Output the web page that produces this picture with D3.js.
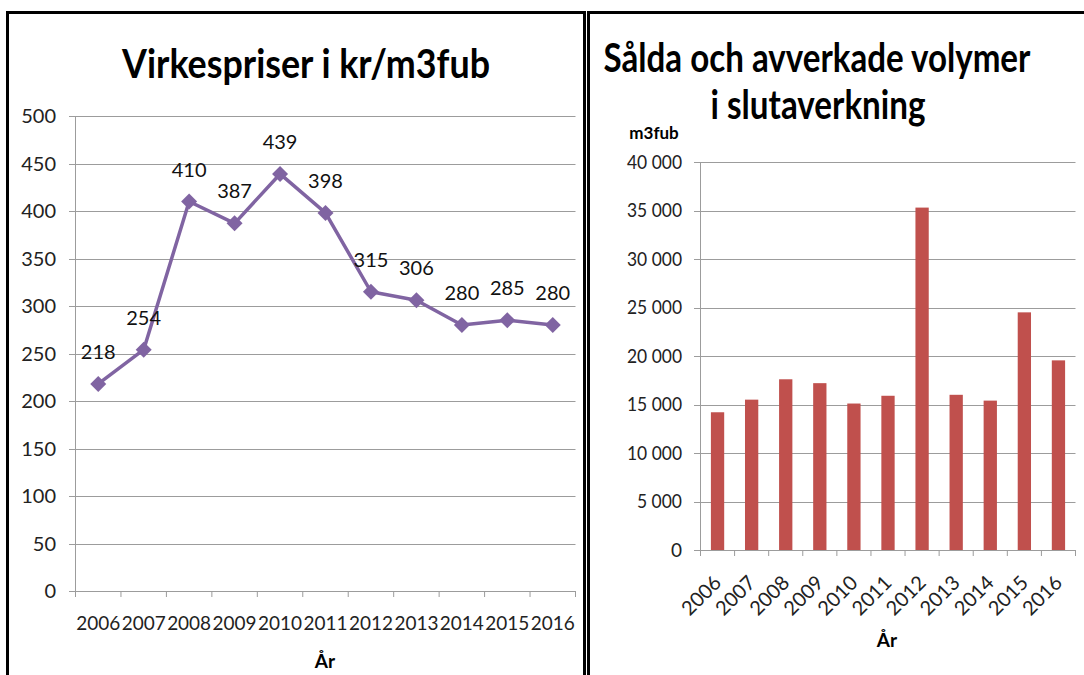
<!DOCTYPE html>
<html>
<head>
<meta charset="utf-8">
<script src="https://cdn.jsdelivr.net/npm/d3@7"></script>
<style>
  body { margin: 0; background: #fff; }
  svg { display: block; font-family: Lato, "Open Sans", sans-serif; }
</style>
</head>
<body>
<div id="chart"></div>
<script>
const years = ["2006", "2007", "2008", "2009", "2010", "2011", "2012", "2013", "2014", "2015", "2016"];
const prices = [218, 254, 410, 387, 439, 398, 315, 306, 280, 285, 280];
const volumes = [14200, 15500, 17600, 17200, 15100, 15900, 35300, 16000, 15400, 24500, 19550];
const priceTicks = [0, 50, 100, 150, 200, 250, 300, 350, 400, 450, 500];
const volumeTicks = [0, 5000, 10000, 15000, 20000, 25000, 30000, 35000, 40000];

const width = 1084,
  height = 675;

const svg = d3.select("#chart")
  .append("svg")
  .attr("width", width)
  .attr("height", height)
  .attr("viewBox", [0, 0, width, height]);

svg.append("rect").attr("width", width).attr("height", height).attr("fill", "#fff");

const grid = "#9c9c9c";
const fmt = d => d3.format(",")(d).replace(/,/g, "\u00a0");

// squeeze a title horizontally to the width it has in the original (Calibri is narrow)
function title(g, str, cx, y, w) {
  const t = g.append("text")
    .attr("text-anchor", "middle")
    .attr("font-size", 41).attr("font-weight", "bold")
    .text(str);
  const k = w / t.node().getComputedTextLength();
  t.attr("transform", `translate(${cx},${y}) scale(${k},1)`);
}

// panel frames
svg.append("rect")
  .attr("x", 7.5).attr("y", 12.5).attr("width", 577).attr("height", 700)
  .attr("fill", "none").attr("stroke", "#000").attr("stroke-width", 3);
svg.append("rect")
  .attr("x", 588.5).attr("y", 12.5).attr("width", 520).attr("height", 700)
  .attr("fill", "none").attr("stroke", "#000").attr("stroke-width", 3);

// ---------- left: line chart ----------
const x1 = d3.scaleBand().domain(years).range([75.5, 575.5]);
const y1 = d3.scaleLinear().domain([0, 500]).range([591, 116]);

const left = svg.append("g");

title(left, "Virkespriser i kr/m3fub", 306, 78, 368);

left.append("g")
  .selectAll("line")
  .data(priceTicks)
  .join("line")
  .attr("x1", 69).attr("x2", 575.5)
  .attr("y1", d => Math.round(y1(d)) + 0.5)
  .attr("y2", d => Math.round(y1(d)) + 0.5)
  .attr("stroke", grid);

left.append("line")
  .attr("x1", 75.5).attr("x2", 75.5).attr("y1", y1(500)).attr("y2", y1(0) + 6)
  .attr("stroke", grid);

left.append("g")
  .selectAll("line")
  .data(years.concat(["end"]))
  .join("line")
  .attr("x1", (d, i) => 75.5 + i * x1.step())
  .attr("x2", (d, i) => 75.5 + i * x1.step())
  .attr("y1", y1(0)).attr("y2", y1(0) + 6)
  .attr("stroke", grid);

left.append("g")
  .selectAll("text")
  .data(priceTicks)
  .join("text")
  .attr("x", 56)
  .attr("y", d => y1(d))
  .attr("dy", "0.36em")
  .attr("text-anchor", "end")
  .attr("font-size", 20)
  .attr("fill", "#222")
  .text(d => d);

left.append("g")
  .selectAll("text")
  .data(years)
  .join("text")
  .attr("x", d => x1(d) + x1.bandwidth() / 2)
  .attr("y", 630)
  .attr("text-anchor", "middle")
  .attr("font-size", 20)
  .attr("fill", "#222")
  .attr("textLength", 44).attr("lengthAdjust", "spacingAndGlyphs")
  .text(d => d);

left.append("text")
  .attr("x", 325).attr("y", 668)
  .attr("text-anchor", "middle")
  .attr("font-size", 19).attr("font-weight", "bold")
  .text("År");

const line = d3.line()
  .x((d, i) => x1(years[i]) + x1.bandwidth() / 2)
  .y(d => y1(d));

left.append("path")
  .datum(prices)
  .attr("fill", "none")
  .attr("stroke", "#8064a2")
  .attr("stroke-width", 3.5)
  .attr("stroke-linejoin", "round")
  .attr("d", line);

left.append("g")
  .selectAll("path")
  .data(prices)
  .join("path")
  .attr("transform", (d, i) => `translate(${x1(years[i]) + x1.bandwidth() / 2},${y1(d)})`)
  .attr("d", "M0,-8L8,0L0,8L-8,0Z")
  .attr("fill", "#8064a2");

left.append("g")
  .selectAll("text")
  .data(prices)
  .join("text")
  .attr("x", (d, i) => x1(years[i]) + x1.bandwidth() / 2)
  .attr("y", d => y1(d) - 25)
  .attr("text-anchor", "middle")
  .attr("font-size", 20)
  .attr("fill", "#111")
  .text(d => d);

// ---------- right: bar chart ----------
const x2 = d3.scaleBand().domain(years).range([700.5, 1075.5]);
const y2 = d3.scaleLinear().domain([0, 40000]).range([550, 162]);

const right = svg.append("g");

title(right, "Sålda och avverkade volymer", 817, 72, 427);
title(right, "i slutaverkning", 818, 119, 215);

right.append("text")
  .attr("x", 654).attr("y", 139)
  .attr("text-anchor", "middle")
  .attr("font-size", 17).attr("font-weight", "bold")
  .text("m3fub");

right.append("g")
  .selectAll("line")
  .data(volumeTicks)
  .join("line")
  .attr("x1", 694).attr("x2", 1075.5)
  .attr("y1", d => Math.round(y2(d)) + 0.5)
  .attr("y2", d => Math.round(y2(d)) + 0.5)
  .attr("stroke", grid);

right.append("line")
  .attr("x1", 700.5).attr("x2", 700.5).attr("y1", y2(40000)).attr("y2", y2(0) + 6)
  .attr("stroke", grid);

right.append("g")
  .selectAll("line")
  .data(years.concat(["end"]))
  .join("line")
  .attr("x1", (d, i) => 700.5 + i * x2.step())
  .attr("x2", (d, i) => 700.5 + i * x2.step())
  .attr("y1", y2(0)).attr("y2", y2(0) + 6)
  .attr("stroke", grid);

right.append("g")
  .selectAll("text")
  .data(volumeTicks)
  .join("text")
  .attr("x", 682)
  .attr("y", d => y2(d))
  .attr("dy", "0.36em")
  .attr("text-anchor", "end")
  .attr("font-size", 19)
  .attr("fill", "#222")
  .attr("textLength", d => d >= 10000 ? 55 : (d > 0 ? 45 : null))
  .attr("lengthAdjust", "spacingAndGlyphs")
  .text(d => fmt(d));

const barW = x2.bandwidth() * 0.39;

right.append("g")
  .selectAll("rect")
  .data(volumes)
  .join("rect")
  .attr("x", (d, i) => x2(years[i]) + (x2.bandwidth() - barW) / 2)
  .attr("y", d => y2(d))
  .attr("width", barW)
  .attr("height", d => y2(0) - y2(d))
  .attr("fill", "#c0504d");

right.append("g")
  .selectAll("text")
  .data(years)
  .join("text")
  .attr("transform", d => `translate(${x2(d) + x2.bandwidth() / 2 + 5},584) rotate(-45)`)
  .attr("text-anchor", "end")
  .attr("font-size", 20)
  .attr("fill", "#222")
  .text(d => d);

right.append("text")
  .attr("x", 887).attr("y", 647)
  .attr("text-anchor", "middle")
  .attr("font-size", 19).attr("font-weight", "bold")
  .text("År");
</script>
</body>
</html>
